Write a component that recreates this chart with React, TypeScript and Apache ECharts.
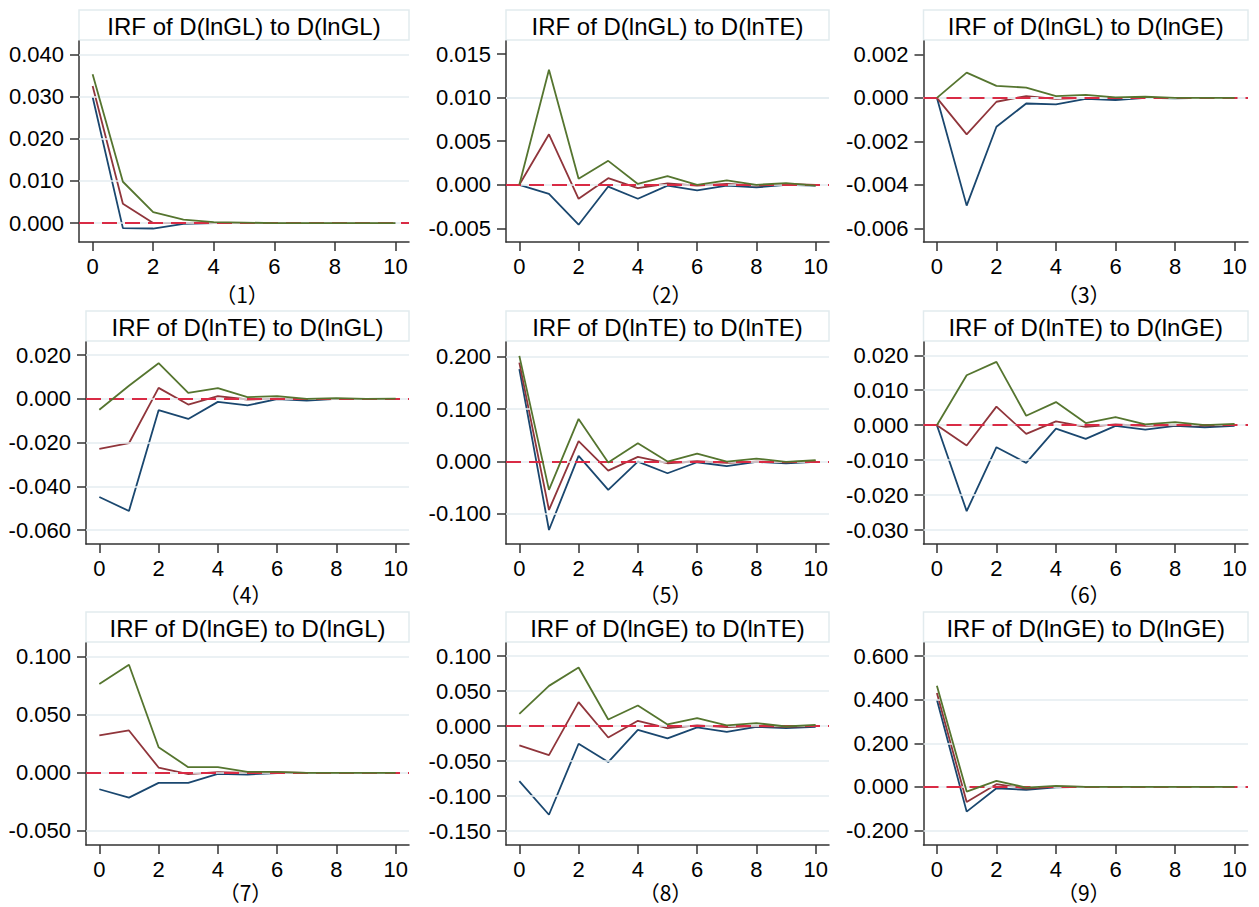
import React, { useEffect, useRef } from "react";
import * as echarts from "echarts";

// ---------- data ----------
const steps = [0, 1, 2, 3, 4, 5, 6, 7, 8, 9, 10];
const xTickValues = [0, 2, 4, 6, 8, 10];

const panelTitles = [
  "IRF of D(lnGL) to D(lnGL)",
  "IRF of D(lnGL) to D(lnTE)",
  "IRF of D(lnGL) to D(lnGE)",
  "IRF of D(lnTE) to D(lnGL)",
  "IRF of D(lnTE) to D(lnTE)",
  "IRF of D(lnTE) to D(lnGE)",
  "IRF of D(lnGE) to D(lnGL)",
  "IRF of D(lnGE) to D(lnTE)",
  "IRF of D(lnGE) to D(lnGE)",
];
const panelCaptions = ["（1）", "（2）", "（3）", "（4）", "（5）", "（6）", "（7）", "（8）", "（9）"];

// panel 1
const p1Upper = [0.0353, 0.0098, 0.0026, 0.0008, 0.0002, 0.0001, 0, 0, 0, 0, 0];
const p1Irf = [0.0325, 0.0046, 0.0, 0.0, 0, 0, 0, 0, 0, 0, 0];
const p1Lower = [0.0299, -0.0012, -0.0013, -0.0002, 0, 0, 0, 0, 0, 0, 0];
// panel 2
const p2Upper = [0, 0.0132, 0.0007, 0.00275, 0.0001, 0.001, 0, 0.0005, 0, 0.0002, -0.0001];
const p2Irf = [0, 0.0058, -0.0016, 0.00076, -0.00038, 0.00015, -0.0001, 0.0001, -0.0001, 0.0001, 0];
const p2Lower = [0, -0.00103, -0.00458, -0.0002, -0.0016, -0.0001, -0.00065, -0.0001, -0.0003, 0, -0.0001];
// panel 3
const p3Upper = [0, 0.00116, 0.00055, 0.00047, 0.00008, 0.00014, 0.00002, 0.00005, 0, 0, 0];
const p3Irf = [0, -0.00168, -0.00018, 0.00008, -0.00005, 0, 0, 0, 0, 0, 0];
const p3Lower = [0, -0.00495, -0.00133, -0.00026, -0.0003, -0.00005, -0.0001, 0, -0.00002, 0, 0];
// panel 4
const p4Upper = [-0.005, 0.006, 0.0163, 0.0027, 0.0049, 0.0008, 0.0012, 0, 0.0003, 0, 0.0001];
const p4Irf = [-0.0229, -0.0203, 0.005, -0.0026, 0.0012, -0.0003, 0.0001, -0.0001, 0, 0, 0];
const p4Lower = [-0.0449, -0.0513, -0.0052, -0.0092, -0.0014, -0.003, -0.0001, -0.0008, 0, -0.0001, 0];
// panel 5
const p5Upper = [0.2019, -0.0541, 0.0815, -0.0019, 0.035, 0, 0.0153, 0, 0.0057, -0.0006, 0.0025];
const p5Irf = [0.189, -0.0924, 0.0389, -0.0172, 0.0089, -0.0032, 0.0006, -0.0025, 0, -0.0013, 0.0006];
const p5Lower = [0.1764, -0.1306, 0.0108, -0.0541, 0, -0.0223, -0.0013, -0.0089, -0.0006, -0.0032, -0.0006];
// panel 6
const p6Upper = [0, 0.0143, 0.0181, 0.0027, 0.0066, 0.0006, 0.0023, 0.0002, 0.0009, 0, 0.0004];
const p6Irf = [0, -0.0058, 0.0053, -0.0025, 0.0011, -0.0005, 0.0002, -0.0002, 0, -0.0001, 0];
const p6Lower = [0, -0.0246, -0.0063, -0.0108, -0.001, -0.0039, -0.0002, -0.0013, -0.0002, -0.0006, -0.0002];
// panel 7
const p7Upper = [0.0764, 0.0931, 0.0221, 0.0049, 0.0049, 0.0009, 0.0009, 0, 0, 0, 0];
const p7Irf = [0.0322, 0.0365, 0.0046, -0.0011, 0.0006, 0, 0.0003, 0, 0, 0, 0];
const p7Lower = [-0.0141, -0.0213, -0.0086, -0.0086, -0.0009, -0.0014, -0.0003, 0, 0, 0, 0];
// panel 8
const p8Upper = [0.0176, 0.0576, 0.0838, 0.0095, 0.0295, 0.0024, 0.0114, 0.001, 0.0043, -0.0005, 0.0019];
const p8Irf = [-0.0276, -0.0414, 0.0343, -0.0162, 0.0076, -0.0029, 0.001, -0.0014, 0, -0.001, 0];
const p8Lower = [-0.0786, -0.1267, -0.0252, -0.0514, -0.0052, -0.0176, -0.0019, -0.0081, -0.001, -0.0029, -0.001];
// panel 9
const p9Upper = [0.4644, -0.0215, 0.0276, -0.003, 0.0046, 0, 0, 0, 0, 0, 0];
const p9Irf = [0.4307, -0.069, 0.0123, -0.0077, 0.0015, 0, 0, 0, 0, 0, 0];
const p9Lower = [0.4, -0.1134, -0.0061, -0.0138, -0.0015, 0, 0, 0, 0, 0, 0];

const panelUpper = [p1Upper, p2Upper, p3Upper, p4Upper, p5Upper, p6Upper, p7Upper, p8Upper, p9Upper];
const panelIrf = [p1Irf, p2Irf, p3Irf, p4Irf, p5Irf, p6Irf, p7Irf, p8Irf, p9Irf];
const panelLower = [p1Lower, p2Lower, p3Lower, p4Lower, p5Lower, p6Lower, p7Lower, p8Lower, p9Lower];

const yTicks1 = [0, 0.01, 0.02, 0.03, 0.04];
const yTicks2 = [-0.005, 0, 0.005, 0.01, 0.015];
const yTicks3 = [-0.006, -0.004, -0.002, 0, 0.002];
const yTicks4 = [-0.06, -0.04, -0.02, 0, 0.02];
const yTicks5 = [-0.1, 0, 0.1, 0.2];
const yTicks6 = [-0.03, -0.02, -0.01, 0, 0.01, 0.02];
const yTicks7 = [-0.05, 0, 0.05, 0.1];
const yTicks8 = [-0.15, -0.1, -0.05, 0, 0.05, 0.1];
const yTicks9 = [-0.2, 0, 0.2, 0.4, 0.6];
const panelYTicks = [yTicks1, yTicks2, yTicks3, yTicks4, yTicks5, yTicks6, yTicks7, yTicks8, yTicks9];

const yMin = [-0.0045, -0.00656, -0.00662, -0.0664, -0.1574, -0.034, -0.0621, -0.17, -0.2667];
const yMax = [0.0432, 0.0165, 0.00261, 0.026, 0.2283, 0.0238, 0.1118, 0.1189, 0.6607];
const xMin = -0.45;
const xMax = 10.45;

// ---------- layout / style ----------
const plotLeft = [79, 506, 923.5, 86, 506, 923.5, 86, 506, 923.5];
const colRight = [409, 829, 1248];
const rowTop = [41, 342, 643];
const rowBottom = [242, 544, 845];
const titleTop = [10, 311, 612];
const captionY = [294, 594, 892];

const FONT = '"Liberation Sans", Arial, sans-serif';
const C_LOWER = "#1a476f";
const C_IRF = "#90353b";
const C_UPPER = "#55752f";
const C_ZERO = "#d92b45";
const C_GRID = "#e4edf0";
const C_AXIS = "#333333";

function buildOption() {
  const grid: any[] = [];
  const xAxis: any[] = [];
  const yAxis: any[] = [];
  const series: any[] = [];
  const graphic: any[] = [];

  for (let i = 0; i < 9; i++) {
    const row = Math.floor(i / 3);
    const col = i % 3;
    const left = plotLeft[i];
    const right = colRight[col];
    const top = rowTop[row];
    const bottom = rowBottom[row];

    grid.push({
      left,
      top,
      width: right - left,
      height: bottom - top,
      containLabel: false,
      outerBoundsMode: "none",
    });

    xAxis.push({
      type: "value",
      gridIndex: i,
      min: xMin,
      max: xMax,
      axisLine: { onZero: false, lineStyle: { color: C_AXIS, width: 1.5 } },
      axisTick: { customValues: xTickValues, length: 9, lineStyle: { color: C_AXIS, width: 1.5 } },
      axisLabel: {
        customValues: xTickValues,
        margin: 14,
        fontSize: 22,
        lineHeight: 20,
        fontFamily: FONT,
        color: "#000",
      },
      splitLine: { show: false },
    });

    yAxis.push({
      type: "value",
      gridIndex: i,
      min: yMin[i],
      max: yMax[i],
      axisLine: { show: true, onZero: false, lineStyle: { color: C_AXIS, width: 1.5 } },
      axisTick: { show: true, customValues: panelYTicks[i], length: 9, lineStyle: { color: C_AXIS, width: 1.5 } },
      axisLabel: {
        customValues: panelYTicks[i],
        margin: 15,
        fontSize: 22,
        fontFamily: FONT,
        color: "#000",
        formatter: (v: number) => v.toFixed(3),
      },
      splitLine: { show: false },
    });

    // helper series: gridlines + zero reference line
    series.push({
      type: "line",
      xAxisIndex: i,
      yAxisIndex: i,
      data: [],
      z: 1,
      silent: true,
      markLine: {
        silent: true,
        symbol: ["none", "none"],
        label: { show: false },
        emphasis: { disabled: true },
        animation: false,
        data: [
          ...panelYTicks[i].map((v) => ({ yAxis: v, lineStyle: { color: C_GRID, width: 1.5, type: "solid" } })),
          { yAxis: 0, lineStyle: { color: C_ZERO, width: 1.8, type: [15, 8] } },
        ],
      },
    });

    const lines = [
      { data: panelLower[i], color: C_LOWER, z: 3 },
      { data: panelIrf[i], color: C_IRF, z: 4 },
      { data: panelUpper[i], color: C_UPPER, z: 5 },
    ];
    lines.forEach((l) => {
      series.push({
        type: "line",
        xAxisIndex: i,
        yAxisIndex: i,
        data: steps.map((s, j) => [s, l.data[j]]),
        showSymbol: false,
        symbol: "none",
        z: l.z,
        silent: true,
        lineStyle: { color: l.color, width: 1.8 },
        itemStyle: { color: l.color },
      });
    });

    // title box
    graphic.push({
      type: "rect",
      shape: { x: left, y: titleTop[row], width: right - left, height: top - titleTop[row] - 1 },
      style: { fill: "#ffffff", stroke: "#e2ebee", lineWidth: 1.5 },
      z: 0,
    });
    graphic.push({
      type: "text",
      x: (left + right) / 2,
      y: (titleTop[row] + top - 1) / 2 + 1,
      style: {
        text: panelTitles[i],
        font: `24px ${FONT}`,
        fill: "#000",
        textAlign: "center",
        align: "center",
        textVerticalAlign: "middle",
        verticalAlign: "middle",
      },
      z: 10,
    });
    // caption
    graphic.push({
      type: "text",
      x: (left + right) / 2 - 2,
      y: captionY[row],
      style: {
        text: panelCaptions[i],
        fontSize: 21,
        fontFamily: '"Noto Sans CJK SC", sans-serif',
        lineHeight: 18,
        fill: "#000",
        textAlign: "center",
        align: "center",
        textVerticalAlign: "middle",
        verticalAlign: "middle",
      },
      z: 10,
    });
  }

  return {
    animation: false,
    backgroundColor: "#ffffff",
    grid,
    xAxis,
    yAxis,
    series,
    graphic: { elements: graphic },
  };
}

export default function App() {
  const ref = useRef<HTMLDivElement>(null);
  useEffect(() => {
    if (!ref.current) return;
    const chart = echarts.init(ref.current, undefined, { renderer: "svg" });
    chart.setOption(buildOption() as any);
    return () => chart.dispose();
  }, []);
  return (
    <div
      ref={ref}
      style={{ position: "fixed", left: 0, top: 0, width: 1259, height: 907, background: "#fff" }}
    />
  );
}
